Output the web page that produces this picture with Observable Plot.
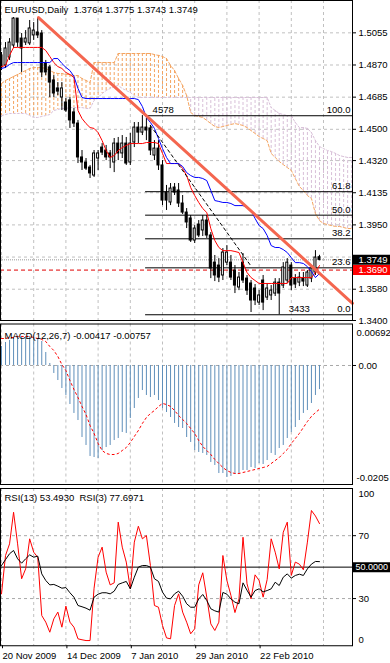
<!DOCTYPE html>
<html>
<head>
<meta charset="utf-8">
<script src="https://cdn.jsdelivr.net/npm/d3@7"></script>
<script src="https://cdn.jsdelivr.net/npm/@observablehq/plot@0.6"></script>
<style>
html,body{margin:0;padding:0;background:#fff;}
#chart{position:relative;width:390px;height:663px;overflow:hidden;background:#fff;}
#chart .panel{position:absolute;left:0;}
#chart svg{display:block;overflow:visible;background:transparent;}
</style>
</head>
<body>
<div id="chart">
  <div class="panel" id="main" style="top:0px"></div>
  <div class="panel" id="macd" style="top:320px"></div>
  <div class="panel" id="rsi" style="top:484px"></div>
</div>
<script>
// ---------------- DATA ----------------
const symbol = "EURUSD";
const timeframe = "Daily";

const open = [1.4925,1.4867,1.4913,1.4982,1.5137,1.5022,1.4999,1.4994,1.5040,1.5057,
1.5051,1.4879,1.4856,1.4781,1.4735,1.4683,1.4654,1.4666,1.4597,1.4533,
1.4338,1.4309,1.4280,1.4234,1.4332,1.4395,1.4378,1.4361,1.4309,1.4418,
1.4361,1.4418,1.4309,1.4424,1.4510,1.4481,1.4510,1.4505,1.4349,1.4389,
1.4292,1.4136,1.4079,1.4165,1.4148,1.4073,1.4021,1.3987,1.3860,1.3952,
1.3918,1.3975,1.3889,1.3733,1.3716,1.3659,1.3733,1.3733,1.3687,1.3590,
1.3733,1.3641,1.3613,1.3584,1.3503,1.3630,1.3532,1.3544,1.3555,1.3618,
1.3601,1.3630,1.3716,1.3641,1.3618,1.3641,1.3601,1.3641,1.3676,1.3764];
const high = [1.4942,1.4999,1.5022,1.5143,1.5137,1.5051,1.5068,1.5126,1.5114,1.5143,
1.5068,1.4896,1.4867,1.4809,1.4769,1.4769,1.4677,1.4683,1.4620,1.4551,
1.4378,1.4332,1.4292,1.4378,1.4378,1.4418,1.4407,1.4378,1.4447,1.4453,
1.4464,1.4453,1.4476,1.4539,1.4539,1.4579,1.4562,1.4522,1.4435,1.4435,
1.4320,1.4177,1.4188,1.4188,1.4188,1.4119,1.4044,1.4004,1.3946,1.3975,
1.4004,1.4004,1.3906,1.3774,1.3756,1.3814,1.3831,1.3774,1.3716,1.3676,
1.3785,1.3659,1.3630,1.3607,1.3572,1.3659,1.3613,1.3601,1.3641,1.3641,
1.3733,1.3756,1.3733,1.3664,1.3676,1.3676,1.3687,1.3716,1.3802,1.3775];
const low = [1.4838,1.4850,1.4896,1.4965,1.4971,1.4827,1.4982,1.4982,1.5011,1.5022,
1.4798,1.4809,1.4683,1.4683,1.4694,1.4608,1.4597,1.4505,1.4510,1.4303,
1.4263,1.4263,1.4217,1.4223,1.4263,1.4349,1.4320,1.4274,1.4251,1.4320,
1.4332,1.4292,1.4292,1.4395,1.4418,1.4464,1.4435,1.4349,1.4320,1.4263,
1.4061,1.4033,1.4061,1.4119,1.4050,1.4010,1.3929,1.3849,1.3843,1.3877,
1.3883,1.3872,1.3641,1.3624,1.3618,1.3630,1.3716,1.3630,1.3555,1.3572,
1.3613,1.3544,1.3446,1.3486,1.3486,1.3457,1.3515,1.3515,1.3538,1.3433,
1.3584,1.3613,1.3572,1.3584,1.3595,1.3595,1.3590,1.3618,1.3659,1.3743];
const close = [1.4856,1.4965,1.4999,1.5137,1.4999,1.4965,1.5022,1.5080,1.5068,1.5040,
1.4827,1.4827,1.4769,1.4706,1.4717,1.4735,1.4608,1.4551,1.4533,1.4338,
1.4309,1.4274,1.4246,1.4361,1.4361,1.4366,1.4338,1.4338,1.4418,1.4361,
1.4418,1.4303,1.4418,1.4510,1.4481,1.4510,1.4493,1.4378,1.4389,1.4292,
1.4090,1.4090,1.4159,1.4136,1.4073,1.4021,1.3964,1.3860,1.3929,1.3889,
1.3975,1.3889,1.3699,1.3659,1.3647,1.3791,1.3791,1.3647,1.3601,1.3647,
1.3630,1.3572,1.3515,1.3515,1.3544,1.3503,1.3584,1.3572,1.3618,1.3555,
1.3705,1.3733,1.3601,1.3607,1.3647,1.3624,1.3676,1.3699,1.3762,1.3749];

// Ichimoku
const tenkan = [1.4861,1.4867,1.4925,1.4971,1.4971,1.4971,1.4971,1.4971,1.4971,1.4971,
1.4971,1.4953,1.4919,1.4884,1.4861,1.4850,1.4827,1.4815,1.4798,1.4608,
1.4562,1.4533,1.4510,1.4505,1.4481,1.4435,1.4378,1.4338,1.4349,1.4378,
1.4395,1.4407,1.4418,1.4418,1.4418,1.4418,1.4424,1.4424,1.4424,1.4418,
1.4361,1.4303,1.4303,1.4303,1.4303,1.4274,1.4234,1.4165,1.4119,1.4079,
1.4044,1.4021,1.3929,1.3860,1.3820,1.3802,1.3802,1.3802,1.3797,1.3791,
1.3733,1.3676,1.3647,1.3630,1.3613,1.3613,1.3613,1.3613,1.3613,1.3613,
1.3613,1.3613,1.3647,1.3647,1.3647,1.3647,1.3647,1.3647,1.3676,1.3716];
const kijun = [1.4850,1.4856,1.4873,1.4884,1.4884,1.4884,1.4884,1.4884,1.4884,1.4884,
1.4884,1.4884,1.4884,1.4907,1.4907,1.4879,1.4856,1.4838,1.4804,1.4735,
1.4683,1.4677,1.4677,1.4677,1.4677,1.4677,1.4677,1.4677,1.4677,1.4677,
1.4677,1.4677,1.4677,1.4677,1.4671,1.4631,1.4568,1.4539,1.4505,1.4447,
1.4389,1.4338,1.4303,1.4303,1.4303,1.4286,1.4251,1.4234,1.4223,1.4223,
1.4217,1.4205,1.4148,1.4090,1.4085,1.4079,1.4079,1.4073,1.4061,1.4061,
1.4061,1.4050,1.4033,1.3987,1.3946,1.3929,1.3889,1.3831,1.3820,1.3820,
1.3808,1.3791,1.3762,1.3733,1.3733,1.3728,1.3710,1.3682,1.3647,1.3670];
const spanA = [1.4763,1.4781,1.4792,1.4804,1.4815,1.4827,1.4838,1.4850,1.4855,1.4855,
1.4855,1.4850,1.4838,1.4827,1.4821,1.4821,1.4815,1.4815,1.4809,1.4809,
1.4792,1.4781,1.4769,1.4884,1.4884,1.4884,1.4884,1.4884,1.4884,1.4936,
1.4936,1.4936,1.4936,1.4936,1.4936,1.4936,1.4936,1.4936,1.4930,1.4925,
1.4919,1.4907,1.4867,1.4838,1.4792,1.4752,1.4694,1.4597,1.4579,1.4574,
1.4568,1.4551,1.4533,1.4516,1.4510,1.4516,1.4522,1.4528,1.4533,1.4528,
1.4522,1.4510,1.4493,1.4476,1.4458,1.4447,1.4435,1.4361,1.4338,1.4315,
1.4297,1.4280,1.4263,1.4217,1.4171,1.4148,1.4119,1.4102,1.4015,1.3975,
1.3958,1.3952,1.3946,1.3941,1.3941,1.3935,1.3929,1.3929];
const spanB = [1.4579,1.4585,1.4591,1.4591,1.4591,1.4591,1.4591,1.4579,1.4568,1.4568,
1.4574,1.4579,1.4585,1.4608,1.4614,1.4620,1.4620,1.4625,1.4625,1.4625,
1.4625,1.4620,1.4620,1.4666,1.4683,1.4706,1.4723,1.4735,1.4746,1.4752,
1.4735,1.4723,1.4712,1.4694,1.4683,1.4683,1.4683,1.4683,1.4683,1.4683,
1.4683,1.4683,1.4683,1.4683,1.4683,1.4683,1.4683,1.4683,1.4683,1.4683,
1.4683,1.4683,1.4683,1.4683,1.4683,1.4683,1.4683,1.4683,1.4683,1.4683,
1.4683,1.4683,1.4683,1.4683,1.4683,1.4683,1.4683,1.4625,1.4608,1.4591,
1.4585,1.4579,1.4579,1.4539,1.4510,1.4510,1.4505,1.4481,1.4435,1.4401,
1.4389,1.4378,1.4372,1.4361,1.4349,1.4343,1.4338,1.4338];

// Fibonacci retracement
const fibPrices = [1.4578, 1.4141, 1.4006, 1.3870, 1.3703, 1.3433];
const fibLabels = ["100.0", "61.8", "50.0", "38.2", "23.6", "0.0"];
const fibAnchorBars = [35.8, 69.6];
const fibAnchorPrices = [1.4578, 1.3433];
const fibAnchorLabels = ["4578", "3433"];

// Trend lines (bar index, price)
const trendBars = [9.2, 87.2];
const trendPrices = [1.5143, 1.3499];
const dashTrendBars = [37.0, 61.9];
const dashTrendPrices = [1.4522, 1.3716];

const bidPrice = 1.3749;
const alertPrice = 1.3690;

// Price axis
const priceGrid = [1.5055, 1.4870, 1.4685, 1.4500, 1.4320, 1.4135, 1.3950, 1.3765, 1.3580, 1.3400];
const priceLabels = [1.5055, 1.4870, 1.4685, 1.4500, 1.4320, 1.4135, 1.3950, 1.3580, 1.3400];

// MACD(12,26,7)
const macdMain = [0.00329,0.00398,0.00433,0.00467,0.00484,0.00502,0.00502,0.00502,0.00484,0.00467,
0.00415,0.00225,0.00035,-0.00138,-0.00260,-0.00398,-0.00519,-0.00675,-0.00830,-0.00952,
-0.01246,-0.01384,-0.01574,-0.01592,-0.01609,-0.01471,-0.01419,-0.01384,-0.01298,-0.01263,
-0.01159,-0.01176,-0.00917,-0.00744,-0.00571,-0.00433,-0.00519,-0.00554,-0.00519,-0.00606,
-0.00744,-0.00813,-0.00900,-0.01003,-0.01073,-0.01090,-0.01246,-0.01332,-0.01471,-0.01505,
-0.01522,-0.01557,-0.01678,-0.01730,-0.01869,-0.01869,-0.01938,-0.01920,-0.01886,-0.01869,
-0.01817,-0.01817,-0.01765,-0.01782,-0.01696,-0.01713,-0.01644,-0.01522,-0.01557,-0.01436,
-0.01384,-0.01263,-0.01159,-0.01073,-0.00952,-0.00830,-0.00779,-0.00657,-0.00519,-0.00417];
const macdSignal = [0.00467,0.00467,0.00484,0.00484,0.00502,0.00502,0.00502,0.00502,0.00484,0.00467,
0.00450,0.00415,0.00329,0.00260,0.00156,0.00017,-0.00087,-0.00260,-0.00415,-0.00554,
-0.00709,-0.00848,-0.01038,-0.01176,-0.01349,-0.01471,-0.01522,-0.01540,-0.01540,-0.01522,
-0.01471,-0.01419,-0.01332,-0.01228,-0.01125,-0.01003,-0.00900,-0.00830,-0.00779,-0.00709,
-0.00657,-0.00675,-0.00709,-0.00779,-0.00865,-0.00934,-0.01003,-0.01090,-0.01176,-0.01298,
-0.01401,-0.01471,-0.01540,-0.01626,-0.01696,-0.01765,-0.01817,-0.01851,-0.01869,-0.01869,
-0.01851,-0.01834,-0.01817,-0.01799,-0.01782,-0.01765,-0.01747,-0.01696,-0.01644,-0.01592,
-0.01522,-0.01453,-0.01349,-0.01263,-0.01176,-0.01073,-0.00969,-0.00882,-0.00813,-0.00757];
const macdMax = 0.00692, macdMin = -0.0205;

// RSI
const rsi13 = [51.0,54.8,58.5,60.6,55.3,52.5,55.3,57.8,56.3,57.0,
45.7,41.5,38.7,39.0,37.9,36.6,37.0,33.7,30.9,25.6,
24.8,23.9,22.6,30.9,32.8,33.7,33.7,33.0,34.7,39.0,
40.0,40.9,36.2,43.6,50.0,51.0,51.0,50.0,42.6,40.9,
34.1,30.3,29.8,33.0,34.7,31.5,26.7,24.5,24.5,29.8,
32.6,28.8,23.5,22.2,21.4,33.9,32.8,29.8,27.7,26.7,
40.0,35.3,30.9,35.1,36.2,34.3,35.1,36.2,40.4,38.3,
43.6,45.7,43.0,44.7,45.5,44.7,48.9,51.9,53.6,53.4930];
const rsi3 = [33.0,57.4,64.8,84.9,64.8,42.6,48.9,68.0,59.5,56.3,
19.2,15.0,8.6,17.1,21.4,11.8,25.2,15.0,11.8,4.4,
3.8,3.3,3.3,36.6,56.3,62.7,46.8,38.7,40.0,78.6,
62.7,53.2,36.2,65.9,76.0,68.0,70.1,51.0,25.6,24.5,
12.9,5.0,4.4,25.6,33.0,21.4,15.0,7.6,10.8,38.7,
46.4,30.9,13.9,9.7,15.0,57.4,41.5,32.0,21.1,29.8,
69.0,39.4,29.8,45.1,41.5,30.9,42.1,68.0,59.5,48.9,
72.2,78.6,44.7,53.2,51.9,48.3,65.9,86.0,82.5,77.6971];
const rsiLevels = [70, 30];
const rsiMid = 50;

// Time axis
const gridBars = [0, 8, 16, 24, 32, 40, 48, 56, 64, 72, 80];
const dateBars = [0, 16, 32, 48, 64];
const dateLabels = ["20 Nov 2009", "14 Dec 2009", "7 Jan 2010", "29 Jan 2010", "22 Feb 2010"];

// ---------------- LAYOUT / STYLE ----------------
const barPx = 4.025, barOrigin = 1;
const px2bar = p => (p - barOrigin) / barPx;
const xDomain = [px2bar(0), px2bar(352)];
const boxX1 = px2bar(353), boxX2 = px2bar(391);
const FONT = "'Liberation Sans', Arial, sans-serif";
const style = {background: "transparent", overflow: "visible", fontFamily: FONT, fontSize: "9.5px", color: "black"};
const gridStyle = {stroke: "#c0c0c0", strokeOpacity: 1, strokeDasharray: "3,3"};
const cloudUp = "#f4a460", cloudDown = "#d8bfd8";

const bars = d3.range(open.length).map(i => ({i, o: open[i], h: high[i], l: low[i], c: close[i]}));
const cloud = d3.range(spanA.length).map(i => ({i, a: spanA[i], b: spanB[i]}));
const tenkanData = tenkan.map((v, i) => ({i, v}));
const kijunData = kijun.map((v, i) => ({i, v}));
const fib = fibPrices.map((p, i) => ({p, label: fibLabels[i]}));
const fibAnchors = fibAnchorBars.map((b, i) => ({b, p: fibAnchorPrices[i], label: fibAnchorLabels[i]}));
const trend = trendBars.map((b, i) => ({b, p: trendPrices[i]}));
const dashTrend = dashTrendBars.map((b, i) => ({b, p: dashTrendPrices[i]}));
const last = bars[bars.length - 1];
const title = `${symbol},${timeframe}\u00a0\u00a0${last.o.toFixed(4)} ${last.h.toFixed(4)} ${last.l.toFixed(4)} ${last.c.toFixed(4)}`;

// ---------------- MAIN PANEL ----------------
const main = Plot.plot({
  width: 390, height: 330, marginTop: 0, marginBottom: 10, marginLeft: 0, marginRight: 38,
  x: {domain: xDomain, axis: null},
  y: {domain: [1.3400, 1.5241], axis: null},
  color: {type: "identity"},
  style,
  marks: [
    Plot.gridX(gridBars, gridStyle),
    Plot.gridY(priceGrid, gridStyle),
    Plot.ruleX(cloud, {x: "i", y1: "a", y2: "b", stroke: d => d.a >= d.b ? cloudUp : cloudDown, strokeWidth: 1, strokeDasharray: "3,2"}),
    Plot.line(cloud, {x: "i", y: "a", stroke: cloudUp, strokeWidth: 1, strokeDasharray: "3,2"}),
    Plot.line(cloud, {x: "i", y: "b", stroke: cloudDown, strokeWidth: 1, strokeDasharray: "2,2"}),
    Plot.ruleY([bidPrice], {stroke: "#999", strokeDasharray: "1,1"}),
    Plot.ruleY(fib, {y: "p", x1: fibAnchorBars[0], x2: xDomain[1], stroke: "black"}),
    Plot.ruleY([alertPrice], {stroke: "#e00000", strokeDasharray: "4,3"}),
    Plot.ruleX(bars, {x: "i", y1: "l", y2: "h", stroke: "black"}),
    Plot.rect(bars, {x1: d => d.i - 0.25, x2: d => d.i + 0.25, y1: "o", y2: "c", fill: d => d.c > d.o ? "white" : "black", stroke: "black"}),
    Plot.line(tenkanData, {x: "i", y: "v", stroke: "red", strokeWidth: 1}),
    Plot.line(kijunData, {x: "i", y: "v", stroke: "blue", strokeWidth: 1}),
    Plot.line(dashTrend, {x: "b", y: "p", stroke: "black", strokeWidth: 1, strokeDasharray: "3,3"}),
    Plot.line(trend, {x: "b", y: "p", stroke: "#f4664f", strokeWidth: 3}),
    Plot.text(fib, {x: xDomain[1], y: "p", text: "label", textAnchor: "end", lineAnchor: "bottom", dx: -2, dy: -2.5}),
    Plot.text(fibAnchors, {x: "b", y: "p", text: "label", textAnchor: "start", lineAnchor: "bottom", dx: 7, dy: -2.5}),
    Plot.text([title], {frameAnchor: "top-left", text: d => d, textAnchor: "start", lineAnchor: "top", dx: 4, dy: 5.3}),
    Plot.axisY(priceLabels, {anchor: "right", label: null, tickSize: 3, tickPadding: 3, tickFormat: d => d.toFixed(4)}),
    Plot.ruleY([bidPrice], {x1: boxX1, x2: boxX2, stroke: "black", strokeWidth: 10}),
    Plot.ruleY([alertPrice], {x1: boxX1, x2: boxX2, stroke: "#ff0000", strokeWidth: 10}),
    Plot.text([bidPrice, alertPrice], {x: xDomain[1], y: d => d, text: d => d.toFixed(4), fill: "white", textAnchor: "start", dx: 6}),
    Plot.frame({stroke: "black"})
  ]
});
document.getElementById("main").appendChild(main);

// ---------------- MACD PANEL ----------------
const macdData = macdMain.map((v, i) => ({i, v}));
const sigData = macdSignal.map((v, i) => ({i, v}));
const macdTitle = `MACD(12,26,7) ${macdMain[macdMain.length - 1].toFixed(5)} ${macdSignal[macdSignal.length - 1].toFixed(5)}`;
const macdPlot = Plot.plot({
  width: 390, height: 170, marginTop: 3.5, marginBottom: 6, marginLeft: 0, marginRight: 38,
  x: {domain: xDomain, axis: null},
  y: {domain: [-0.02059, 0.00718], axis: null},
  style,
  marks: [
    Plot.gridX(gridBars, gridStyle),
    Plot.ruleY([0], {stroke: "#a8a8a8", strokeDasharray: "3,3"}),
    Plot.ruleX(macdData, {x: "i", y1: 0, y2: "v", stroke: "#5f8fba", strokeWidth: 1}),
    Plot.line(sigData, {x: "i", y: "v", stroke: "red", strokeWidth: 1, strokeDasharray: "2,3"}),
    Plot.text([macdTitle], {frameAnchor: "top-left", text: d => d, textAnchor: "start", lineAnchor: "top", dx: 4, dy: 8.3}),
    Plot.axisY([0], {anchor: "right", label: null, tickSize: 3, tickPadding: 3, tickFormat: d => d.toFixed(2)}),
    Plot.text([macdMax], {x: xDomain[1], y: d => d, text: d => String(d), textAnchor: "start", dx: 4, dy: 7}),
    Plot.text([macdMin], {x: xDomain[1], y: d => d, text: d => String(d), textAnchor: "start", dx: 4, dy: -6.5}),
    Plot.frame({stroke: "black"})
  ]
});
document.getElementById("macd").appendChild(macdPlot);

// ---------------- RSI PANEL ----------------
const r13 = rsi13.map((v, i) => ({i, v}));
const r3 = rsi3.map((v, i) => ({i, v}));
const rsiTitle = `RSI(13) ${rsi13[rsi13.length - 1].toFixed(4)}\u00a0\u00a0RSI(3) ${rsi3[rsi3.length - 1].toFixed(4)}`;
const dateMap = new Map(dateBars.map((b, i) => [b, dateLabels[i]]));
const rsiPlot = Plot.plot({
  width: 390, height: 179, marginTop: 4, marginBottom: 17.75, marginLeft: 0, marginRight: 38,
  x: {domain: xDomain, axis: null},
  y: {domain: [0, 100], axis: null},
  style,
  marks: [
    Plot.gridX(gridBars, gridStyle),
    Plot.ruleY(rsiLevels, {stroke: "#a8a8a8", strokeDasharray: "3,3"}),
    Plot.ruleY([rsiMid], {stroke: "black"}),
    Plot.line(r3, {x: "i", y: "v", stroke: "red", strokeWidth: 1}),
    Plot.line(r13, {x: "i", y: "v", stroke: "black", strokeWidth: 1}),
    Plot.text([rsiTitle], {frameAnchor: "top-left", text: d => d, textAnchor: "start", lineAnchor: "top", dx: 4, dy: 5.8}),
    Plot.axisY(rsiLevels, {anchor: "right", label: null, tickSize: 3, tickPadding: 3}),
    Plot.text([100], {x: xDomain[1], y: d => d, text: d => String(d), textAnchor: "start", dx: 6, dy: 5}),
    Plot.text([0], {x: xDomain[1], y: d => d, text: d => String(d), textAnchor: "start", dx: 6, dy: -6}),
    Plot.ruleY([rsiMid], {x1: boxX1, x2: boxX2, stroke: "black", strokeWidth: 10}),
    Plot.text([rsiMid], {x: xDomain[1], y: d => d, text: d => d.toFixed(4), fill: "white", textAnchor: "start", dx: 3, fontSize: 9}),
    Plot.axisX(dateBars, {anchor: "bottom", label: null, tickSize: 3, tickPadding: 3, tickFormat: d => dateMap.get(d), textAnchor: "start", dx: 1}),
    Plot.frame({stroke: "black"})
  ]
});
document.getElementById("rsi").appendChild(rsiPlot);
</script>
</body>
</html>
